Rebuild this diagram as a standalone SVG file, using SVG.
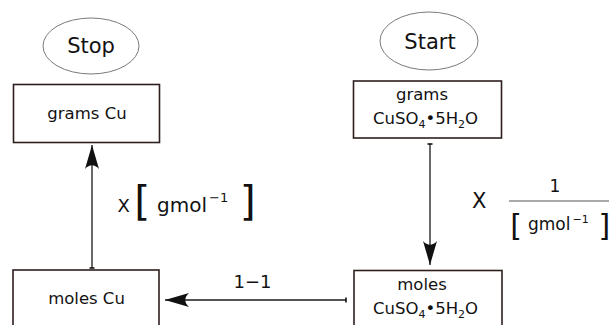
<svg xmlns="http://www.w3.org/2000/svg" width="609" height="325" viewBox="0 0 609 325">
<style>
text{font-family:"DejaVu Sans","Verdana",sans-serif;fill:#111}
.box{fill:#fff;stroke:#2e1e1e;stroke-width:1.6}
.oval{fill:#fff;stroke:#7a7a7a;stroke-width:1}
.t{font-size:16.5px;text-anchor:middle}
.big{font-size:21px;text-anchor:middle}
.sub{font-size:11px}
.conn{fill:none;stroke:#1a1a1a;stroke-width:1.3}
</style>
<defs>
<marker id="ah" markerUnits="userSpaceOnUse" markerWidth="30" markerHeight="20" viewBox="-26 -10 30 20" refX="0" refY="0" orient="auto">
<path d="M0,0 L-24,-7 C-19,-2.5 -19,2.5 -24,7 Z" fill="#111"/>
</marker>
<marker id="tk" markerUnits="userSpaceOnUse" markerWidth="6" markerHeight="8" viewBox="-3 -4 6 8" refX="0" refY="0" orient="auto">
<path d="M0,-2.5 L0,2.5" stroke="#111" stroke-width="1.6"/>
</marker>
</defs>

<g id="stop">
<ellipse class="oval" cx="91" cy="46" rx="48" ry="28"/>
<text class="big" x="91" y="53">Stop</text>
</g>
<g id="start">
<ellipse class="oval" cx="429" cy="41" rx="49" ry="29"/>
<text class="big" x="430" y="49">Start</text>
</g>
<g id="grams-cu">
<rect class="box" x="13.5" y="84.5" width="146" height="58"/>
<text class="t" x="87" y="119">grams Cu</text>
</g>
<g id="grams-cuso4">
<rect class="box" x="353.5" y="81" width="148" height="57"/>
<text class="t" x="422" y="100">grams</text>
<text class="t" x="425.5" y="124">CuSO<tspan class="sub" dy="4">4</tspan><tspan dy="-4">•5H</tspan><tspan class="sub" dy="4">2</tspan><tspan dy="-4">O</tspan></text>
</g>
<g id="moles-cu">
<rect class="box" x="13" y="270" width="146" height="70"/>
<text class="t" x="86.5" y="304">moles Cu</text>
</g>
<g id="moles-cuso4">
<rect class="box" x="354" y="270.5" width="148" height="70"/>
<text class="t" x="422" y="290">moles</text>
<text class="t" x="425.5" y="314">CuSO<tspan class="sub" dy="4">4</tspan><tspan dy="-4">•5H</tspan><tspan class="sub" dy="4">2</tspan><tspan dy="-4">O</tspan></text>
</g>

<g id="connectors">
<line class="conn" x1="430" y1="144" x2="430" y2="265" marker-start="url(#tk)" marker-end="url(#ah)"/>
<line class="conn" x1="346" y1="300" x2="165" y2="300" marker-start="url(#tk)" marker-end="url(#ah)"/>
<line class="conn" x1="92" y1="268" x2="92" y2="145" marker-start="url(#tk)" marker-end="url(#ah)"/>
</g>

<g id="labels">
<text x="117.5" y="212" style="font-size:18px">X</text>
<text x="134.3" y="214.6" style="font-size:41px">[</text>
<text x="157" y="212" style="font-size:20px">gmol</text>
<text x="209" y="202" style="font-size:13px">−1</text>
<text x="239.7" y="214.6" style="font-size:41px">]</text>

<text x="472" y="208" style="font-size:21px">X</text>
<text x="555" y="192" style="font-size:17px;text-anchor:middle">1</text>
<line x1="509" y1="201" x2="609" y2="201" stroke="#555" stroke-width="1.2"/>
<text x="510.3" y="236" style="font-size:30px">[</text>
<text x="528" y="230" style="font-size:17px">gmol</text>
<text x="572.5" y="222.5" style="font-size:11px">−1</text>
<text x="598.5" y="236" style="font-size:30px">]</text>

<text x="252.5" y="288" style="font-size:18px;text-anchor:middle">1−1</text>
</g>
</svg>
